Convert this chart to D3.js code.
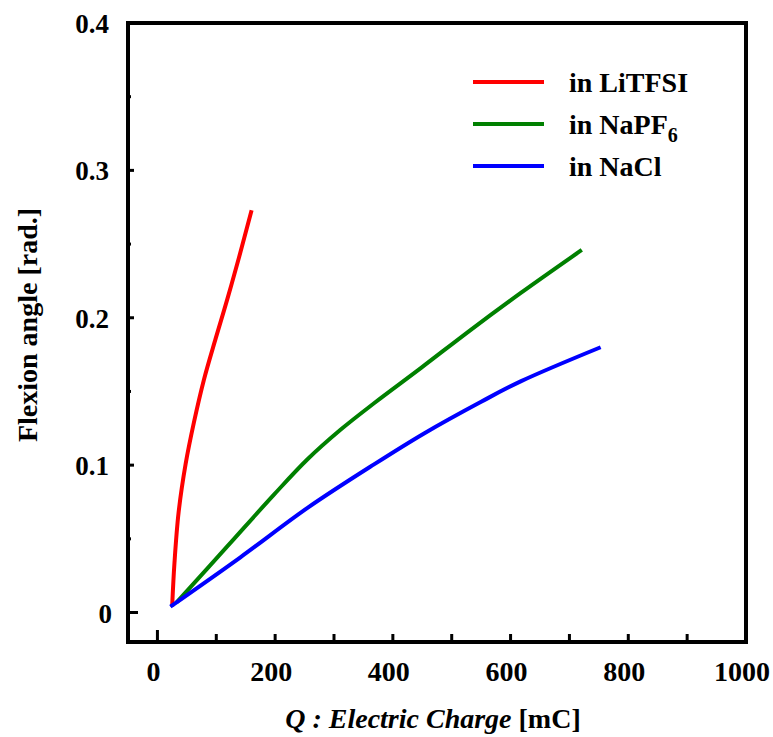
<!DOCTYPE html>
<html><head><meta charset="utf-8">
<script src="https://cdn.jsdelivr.net/npm/d3@7"></script>
<style>body{margin:0;background:#fff;} svg{display:block;} text{font-family:"Liberation Serif","Times New Roman","DejaVu Serif",serif;font-weight:bold;}</style>
</head><body>
<svg id="chart" width="773" height="737"></svg>
<script>
const seriesNames = ["in LiTFSI", "in NaPF6", "in NaCl"];
const seriesColors = ["#ff0000", "#008000", "#0000ff"];
const litfsiQ = [25, 29, 36, 48, 62, 79, 99, 119, 138, 160];
const litfsiAngle = [0.004, 0.034, 0.068, 0.101, 0.129, 0.158, 0.186, 0.213, 0.240, 0.273];
const napf6Q = [33, 119, 198, 255, 311, 368, 448, 533, 618, 721];
const napf6Angle = [0.007, 0.045, 0.080, 0.104, 0.124, 0.142, 0.166, 0.192, 0.217, 0.246];
const naclQ = [22, 141, 255, 368, 453, 550, 618, 753];
const naclAngle = [0.004, 0.0375, 0.071, 0.1005, 0.1215, 0.143, 0.157, 0.180];
const xTicks = [0, 200, 400, 600, 800, 1000];
const xMinorTicks = [100, 300, 500, 700, 900];
const yTicks = [0, 0.1, 0.2, 0.3, 0.4];
const yMinorTicks = [0.05, 0.15, 0.25, 0.35];

const svg = d3.select("#chart");
const L = 128, R = 746, T = 23, B = 642;
const x = d3.scaleLinear().domain([-50, 1000]).range([L, R]);
const y = d3.scaleLinear().domain([-0.02, 0.4]).range([B, T]);

// ticks
const tg = svg.append("g").attr("stroke", "#000").attr("stroke-width", 3);
xTicks.concat(xMinorTicks).forEach(v => {
  if (v >= 1000) return;
  const len = v === 0 ? 12 : 8;
  tg.append("line").attr("x1", x(v)).attr("x2", x(v)).attr("y1", B).attr("y2", B - len);
});
yTicks.forEach(v => {
  if (v >= 0.4) return;
  const len = v === 0 ? 10 : 6;
  tg.append("line").attr("x1", L).attr("x2", L + len).attr("y1", y(v)).attr("y2", y(v));
});
yMinorTicks.forEach(v => {
  tg.append("line").attr("x1", L).attr("x2", L + 3).attr("y1", y(v)).attr("y2", y(v));
});

// frame
svg.append("rect").attr("x", L).attr("y", T).attr("width", R - L).attr("height", B - T)
  .attr("fill", "none").attr("stroke", "#000").attr("stroke-width", 4);

// tick labels
svg.append("g").selectAll("text").data(xTicks).join("text")
  .attr("x", d => x(d) - 4).attr("y", 681).attr("text-anchor", "middle")
  .attr("font-size", 28)
  .text(d => d);
svg.append("g").selectAll("text").data(yTicks).join("text")
  .attr("x", d => d === 0 ? 112 : 109).attr("y", d => y(d) + 10).attr("text-anchor", "end")
  .attr("font-size", 27)
  .text(d => d === 0 ? "0" : d3.format(".1f")(d));

// axis titles
const xt = svg.append("text").attr("x", 433).attr("y", 728).attr("text-anchor", "middle")
  .attr("font-size", 28);
xt.append("tspan").attr("font-style", "italic").text("Q : Electric Charge");
xt.append("tspan").text(" [mC]");
svg.append("text").attr("transform", "translate(37,325) rotate(-90)").attr("text-anchor", "middle")
  .attr("font-size", 28)
  .text("Flexion angle [rad.]");

// curves
const line = d3.line().x(d => x(d[0])).y(d => y(d[1])).curve(d3.curveCatmullRom.alpha(0.5));
const datasets = [
  d3.zip(litfsiQ, litfsiAngle),
  d3.zip(napf6Q, napf6Angle),
  d3.zip(naclQ, naclAngle)
];
datasets.forEach((ds, i) => {
  svg.append("path").datum(ds).attr("d", line).attr("fill", "none")
    .attr("stroke", seriesColors[i]).attr("stroke-width", 4);
});

// legend
const ly = [82, 124, 166];
seriesNames.forEach((n, i) => {
  svg.append("line").attr("x1", 473).attr("x2", 544).attr("y1", ly[i]).attr("y2", ly[i])
    .attr("stroke", seriesColors[i]).attr("stroke-width", 4);
  const t = svg.append("text").attr("x", 569).attr("y", ly[i] + 10)
    .attr("font-size", 28);
  if (n === "in NaPF6") {
    t.append("tspan").text("in NaPF");
    t.append("tspan").attr("font-size", 20).attr("dy", 8).text("6");
  } else {
    t.text(n);
  }
});
</script>
</body></html>
